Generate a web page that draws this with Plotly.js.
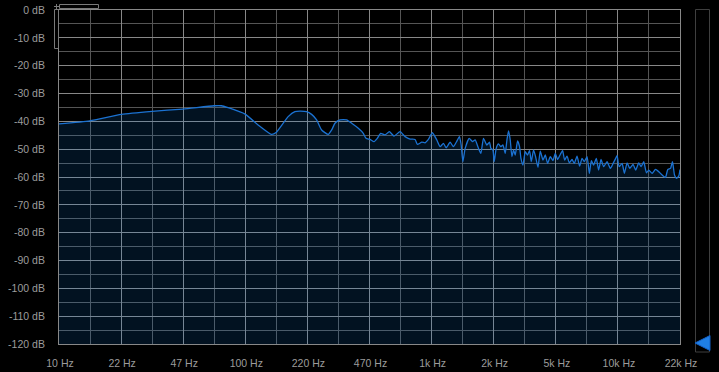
<!DOCTYPE html>
<html>
<head>
<meta charset="utf-8">
<script src="https://cdn.plot.ly/plotly-3.0.1.min.js"></script>
<style>html,body{margin:0;padding:0;background:#000;}#chart{width:719px;height:372px;}</style>
</head>
<body>
<div id="chart"></div>
<script>
// Spectrum values (frequency in Hz, level in dB)
const freqHz = [10, 14.66, 21.65, 31.65, 46.5, 68.35, 74.9, 81.4, 100.5, 118, 139.4, 147.6, 171.3,
  186.2, 198.1, 215.3, 229.1, 243.8, 259.4, 281.5, 293.8, 306.0, 325.6,
  353.8, 376.5, 408.7, 434.9, 449.7, 472.6, 496.6, 517.3, 539.6, 569.2,
  600.4, 636.5, 685.9, 729.8, 776.5, 826.1, 850.1, 898.0, 935.4, 974.5,
  1024, 1082, 1127, 1174, 1214, 1276, 1329, 1387, 1432, 1463,
  1494, 1537, 1616, 1683, 1740, 1813, 1868, 1929, 2012, 2078,
  2115, 2168, 2203, 2259, 2324, 2394, 2455, 2526, 2580, 2632,
  2688, 2745, 2801, 2860, 2943, 3017, 3070, 3147, 3238, 3332,
  3416, 3489, 3589, 3680, 3791, 3901, 4034, 4151, 4271, 4417,
  4567, 4699, 4835, 5000, 5145, 5275, 5434, 5591, 5782, 5950,
  6152, 6354, 6546, 6736, 6966, 7168, 7348, 7556, 7814, 8040,
  8283, 8556, 8928, 9302, 9621, 9936, 10110, 10364, 10757, 11068,
  11446, 11821, 12331, 12735, 13218, 13620, 14067, 14545, 14966, 15614,
  16268, 16948, 17679, 18420, 18954, 19600, 20094, 20599, 21117, 21729, 22050];
const levelDb = [-40.9, -39.8, -37.5, -36.4, -35.6, -34.4, -34.4, -35.1, -37.4, -41.3, -44.7, -44.0, -38.3,
  -36.5, -36.3, -36.5, -37.5, -39.5, -43.1, -44.7, -43.1, -40.7, -39.5,
  -39.5, -40.7, -42.5, -44.3, -46.1, -46.5, -47.3, -46.1, -44.3, -44.9,
  -43.7, -45.3, -43.7, -45.5, -46.4, -46.5, -48.3, -47.5, -47.7, -46.5,
  -44.1, -46.7, -49.1, -47.9, -49.5, -47.5, -49.1, -47.1, -45.5, -48.5,
  -54.5, -49.7, -46.1, -47.3, -46.7, -49.7, -51.5, -46.1, -48.5, -47.5,
  -49.7, -50.3, -54.5, -49.7, -48.1, -49.1, -48.5, -51.5, -46.7, -43.4,
  -46.7, -52.7, -50.3, -52.1, -47.0, -49.1, -53.3, -55.7, -50.9, -52.1,
  -50.5, -54.5, -50.3, -52.7, -56.5, -50.7, -53.9, -52.1, -55.1, -52.7,
  -54.1, -51.5, -53.7, -51.9, -50.5, -53.9, -52.5, -54.9, -53.7, -55.1,
  -52.5, -56.1, -53.3, -54.5, -52.7, -58.7, -54.1, -55.7, -53.3, -57.5,
  -53.7, -56.3, -54.5, -56.9, -55.1, -53.3, -52.3, -56.3, -55.1, -58.7,
  -54.9, -56.9, -55.5, -57.5, -54.9, -56.3, -54.5, -58.5, -57.5, -58.7,
  -57.3, -58.1, -59.3, -60.1, -57.3, -56.9, -54.5, -59.3, -60.5, -59.6, -57.3];

// Axis labels
const xTickLabels = ['10 Hz', '22 Hz', '47 Hz', '100 Hz', '220 Hz', '470 Hz', '1k Hz', '2k Hz', '5k Hz', '10k Hz', '22k Hz'];
const yTickValues = [0, -10, -20, -30, -40, -50, -60, -70, -80, -90, -100, -110, -120];
const yTickLabels = ['0 dB', '-10 dB', '-20 dB', '-30 dB', '-40 dB', '-50 dB', '-60 dB', '-70 dB', '-80 dB', '-90 dB', '-100 dB', '-110 dB', '-120 dB'];

const fMin = 10, fMax = 22050, dbMin = -120, dbMax = 0;
const n = xTickLabels.length - 1;
const xTickValues = xTickLabels.map((_, i) => fMin * Math.pow(fMax / fMin, i / n));
const xMinorValues = xTickLabels.slice(0, n).map((_, i) => fMin * Math.pow(fMax / fMin, (i + 0.5) / n));

const font = {family: 'Liberation Sans, Arial, sans-serif', size: 10.5, color: '#9c9c9c'};
const majorGrid = '#888888', minorGrid = '#555555';

const traces = [
  {x: [fMin, fMax], y: [dbMin, dbMin], type: 'scatter', mode: 'lines', line: {width: 0}, hoverinfo: 'skip', showlegend: false},
  {x: freqHz, y: levelDb, type: 'scatter', mode: 'lines', fill: 'tonexty',
   fillcolor: 'rgba(14,130,235,0.14)', line: {color: '#1b72d2', width: 1.3, shape: 'spline', smoothing: 0.5}, showlegend: false}
];

// paper-coordinate helpers for the small UI decorations
const L = 59, R = 680, T = 10, B = 344;
const px = v => (v - L) / (R - L);
const py = v => (B - v) / (B - T);
const deco = '#7a7a7a';
const shapes = [
  {type: 'rect', xref: 'paper', yref: 'paper', x0: px(59.5), x1: px(98.5), y0: py(4.5), y1: py(8.5), line: {color: deco, width: 1}},
  {type: 'rect', xref: 'paper', yref: 'paper', x0: px(54.5), x1: px(58.5), y0: py(9.5), y1: py(48.5), line: {color: deco, width: 1}},
  {type: 'line', xref: 'paper', yref: 'paper', x0: px(54), x1: px(59), y0: py(6.5), y1: py(6.5), line: {color: deco, width: 1}},
  {type: 'line', xref: 'paper', yref: 'paper', x0: px(56.5), x1: px(56.5), y0: py(4), y1: py(9), line: {color: deco, width: 1}},
  {type: 'rect', xref: 'paper', yref: 'paper', x0: px(695.5), x1: px(709.5), y0: py(9.5), y1: py(352), line: {color: '#3f3f3f', width: 1}},
  {type: 'path', xref: 'paper', yref: 'paper', path: `M ${px(695)} ${py(343)} L ${px(710)} ${py(335.5)} L ${px(710)} ${py(350.5)} Z`,
   fillcolor: '#1f7fe6', line: {color: '#1462c8', width: 1}}
];

const layout = {
  width: 719, height: 372,
  margin: {l: L, r: 719 - R, t: T, b: 372 - B, pad: 0},
  paper_bgcolor: '#000000', plot_bgcolor: '#000000',
  font: font,
  showlegend: false,
  xaxis: {
    type: 'log', range: [Math.log10(fMin), Math.log10(fMax)],
    tickmode: 'array', tickvals: xTickValues, ticktext: xTickLabels,
    showgrid: true, gridcolor: majorGrid, gridwidth: 1,
    minor: {tickmode: 'array', tickvals: xMinorValues, showgrid: true, gridcolor: minorGrid, gridwidth: 1, ticks: ''},
    showline: true, linecolor: majorGrid, linewidth: 1, mirror: true,
    ticks: '', zeroline: false, tickfont: font, ticklabelstandoff: 9, ticklabelshift: 1, fixedrange: true
  },
  yaxis: {
    range: [dbMin, dbMax],
    tickmode: 'array', tickvals: yTickValues, ticktext: yTickLabels,
    showgrid: true, gridcolor: majorGrid, gridwidth: 1,
    minor: {dtick: 5, showgrid: true, gridcolor: minorGrid, gridwidth: 1, ticks: ''},
    showline: true, linecolor: majorGrid, linewidth: 1, mirror: true,
    ticks: '', zeroline: false, tickfont: font, ticklabelstandoff: 11, fixedrange: true
  },
  shapes: shapes
};

Plotly.newPlot('chart', traces, layout, {staticPlot: true, displayModeBar: false});
</script>
</body>
</html>
